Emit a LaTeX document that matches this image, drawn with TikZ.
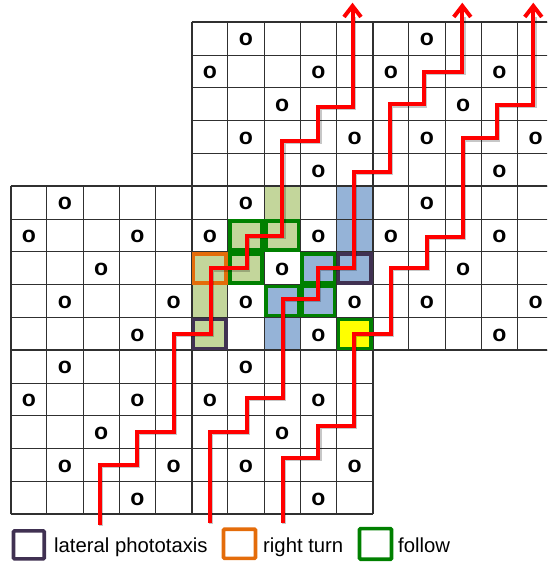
\documentclass[tikz,border=0pt]{standalone}
\usepackage{fontspec}
\setmainfont{Liberation Sans}
\usetikzlibrary{arrows.meta}
\definecolor{gfill}{HTML}{C3D69B}
\definecolor{bfill}{HTML}{95B3D7}
\definecolor{yfill}{HTML}{FFFF00}
\definecolor{gbord}{HTML}{008000}
\definecolor{obord}{HTML}{E46C0A}
\definecolor{pbord}{HTML}{403152}
\definecolor{gridc}{HTML}{303030}
\definecolor{trailred}{HTML}{FF0000}
\tikzset{
  cellbord/.style={line width=3.7pt},
  gline/.style={draw=gridc, line width=1.1pt},
  bline/.style={draw=gridc, line width=1.7pt},
  oletter/.style={font=\bfseries\fontsize{23}{23}\selectfont, inner sep=0pt},
  trail/.style={draw=trailred, line width=4pt, line join=miter,
    -{Straight Barb[length=11pt,width=17pt]}},
  trailshadow/.style={draw=black, opacity=0.22, line width=4pt, line join=miter},
  legbox/.style={line width=3.6pt, rounded corners=1pt},
  legtext/.style={font=\fontsize{20.3}{24}\selectfont, inner sep=0pt, anchor=base west},
}
\newcommand\bcell[3]{\draw[cellbord,draw=#1] ([shift={(1.9pt,-1.9pt)}]#2,#3) rectangle ([shift={(-1.9pt,1.9pt)}]#2+1,#3+1);}
\begin{document}
\begin{tikzpicture}[x=1pt,y=-1pt]
\useasboundingbox (0,0) rectangle (547,565);
\begin{scope}
\clip (0,0) rectangle (547,565);
\begin{scope}[shift={(10.7pt,-22.3pt)},x=36.2pt,y=-32.8pt]
  % fills
  \foreach \c/\r in {7/5,6/6,7/6,5/7,6/7,5/8,5/9} \fill[gfill] (\c,\r) rectangle +(1,1);
  \foreach \c/\r in {9/5,9/6,9/7,8/7,7/8,8/8,7/9} \fill[bfill] (\c,\r) rectangle +(1,1);
  \fill[yfill] (9,9) rectangle +(1,1);
  % grid lines
  \foreach \j in {0,...,4} \draw[gline] (5,\j) -- (15,\j);
  \foreach \j in {5,...,10} \draw[gline] (0,\j) -- (15,\j);
  \foreach \j in {11,...,15} \draw[gline] (0,\j) -- (10,\j);
  \foreach \k in {0,...,4} \draw[gline] (\k,5) -- (\k,15);
  \foreach \k in {5,...,10} \draw[gline] (\k,0) -- (\k,15);
  \foreach \k in {11,...,15} \draw[gline] (\k,0) -- (\k,10);
  % block outlines
  \draw[bline] (5,0) -- (15,0);
  \draw[bline] (0,5) -- (15,5);
  \draw[bline] (0,10) -- (15,10);
  \draw[bline] (0,15) -- (10,15);
  \draw[bline] (0,5) -- (0,15);
  \draw[bline] (5,0) -- (5,15);
  \draw[bline] (10,0) -- (10,15);
  % letters
  \foreach \bx/\by in {5/0,10/0,0/5,5/5,10/5,0/10,5/10}
    \foreach \lx/\ly in {1/0,0/1,3/1,2/2,1/3,4/3,3/4}
      \node[oletter] at ([yshift=-1.2pt]\bx+\lx+0.5,\by+\ly+0.5) {o};
  % cell borders
  \bcell{gbord}{6}{6}
  \bcell{gbord}{7}{6}
  \bcell{gbord}{6}{7}
  \bcell{gbord}{8}{7}
  \bcell{gbord}{7}{8}
  \bcell{gbord}{8}{8}
  \bcell{gbord}{9}{9}
  \bcell{obord}{5}{7}
  \bcell{pbord}{5}{9}
  \bcell{pbord}{9}{7}
\end{scope}
% red trails: shadows
\begin{scope}[shift={(1.2pt,-1.4pt)}]
\draw[trailshadow] (100,525) -- (100,465) -- (137,465) -- (137,432) -- (173.5,432) -- (173.5,333.5) -- (210.5,333.5) -- (210.5,268.3) -- (246.5,268.3) -- (246.5,236) -- (282.3,236) -- (282.3,141) -- (318.4,141) -- (318.4,107) -- (352.5,107) -- (352.5,16);
\draw[trailshadow] (209.5,523) -- (209.5,432) -- (246.5,432) -- (246.5,397.5) -- (283,397.5) -- (283,298.5) -- (317.5,298.5) -- (317.5,267.5) -- (353.5,267.5) -- (353.5,171.5) -- (389.5,171.5) -- (389.5,104.3) -- (424,104.3) -- (424,71.7) -- (462.3,71.7) -- (462.3,16);
\draw[trailshadow] (282.7,523) -- (282.7,458) -- (318.3,458) -- (318.3,426) -- (353.5,426) -- (353.5,333.5) -- (390.7,333.5) -- (390.7,268) -- (426.5,268) -- (426.5,236.5) -- (462.5,236.5) -- (462.5,138.3) -- (497,138.3) -- (497,105) -- (533.3,105) -- (533.3,16);
\end{scope}
% red trails
\draw[trail] (100,525) -- (100,465) -- (137,465) -- (137,432) -- (173.5,432) -- (173.5,333.5) -- (210.5,333.5) -- (210.5,268.3) -- (246.5,268.3) -- (246.5,236) -- (282.3,236) -- (282.3,141) -- (318.4,141) -- (318.4,107) -- (352.5,107) -- (352.5,2.7);
\draw[trail] (209.5,523) -- (209.5,432) -- (246.5,432) -- (246.5,397.5) -- (283,397.5) -- (283,298.5) -- (317.5,298.5) -- (317.5,267.5) -- (353.5,267.5) -- (353.5,171.5) -- (389.5,171.5) -- (389.5,104.3) -- (424,104.3) -- (424,71.7) -- (462.3,71.7) -- (462.3,2.7);
\draw[trail] (282.7,523) -- (282.7,458) -- (318.3,458) -- (318.3,426) -- (353.5,426) -- (353.5,333.5) -- (390.7,333.5) -- (390.7,268) -- (426.5,268) -- (426.5,236.5) -- (462.5,236.5) -- (462.5,138.3) -- (497,138.3) -- (497,105) -- (533.3,105) -- (533.3,2.7);
\end{scope}
% legend
\draw[legbox, draw=pbord] (13.5,530.8) rectangle (44.2,558.9);
\node[legtext] (lg1) at (54,552) {lateral phototaxis};
\draw[legbox, draw=obord] (223.5,529.2) rectangle (255.5,558.3);
\node[legtext] (lg2) at (263,552) {right turn};
\draw[legbox, draw=gbord] (359.5,528.6) rectangle (391.5,559.2);
\node[legtext] (lg3) at (398,552) {follow};
\end{tikzpicture}
\end{document}
